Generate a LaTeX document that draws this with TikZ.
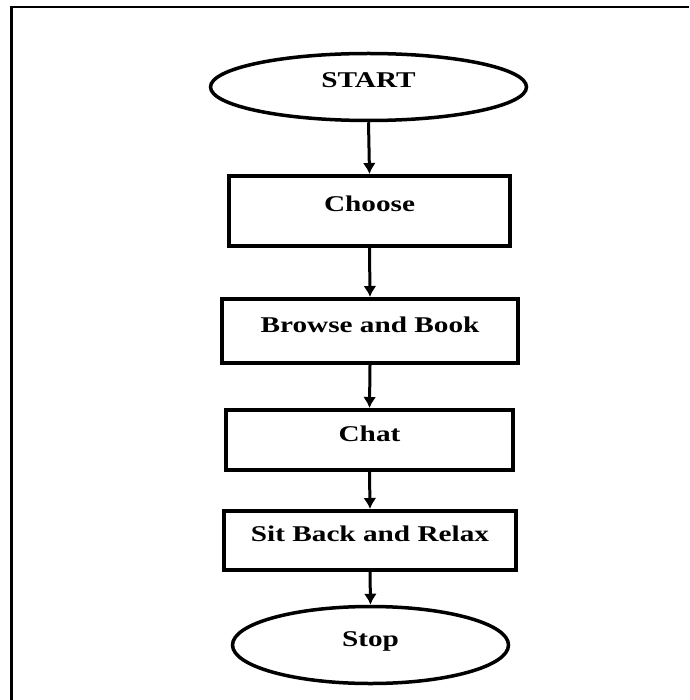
\documentclass[tikz,border=0pt]{standalone}
\usepackage{fontspec}
\setmainfont{Liberation Serif}[FakeStretch=1.3]
\usetikzlibrary{arrows.meta,shapes.geometric}

\begin{document}
\begin{tikzpicture}[x=1pt,y=-1pt,>={Latex[length=11pt,width=13pt]}]
    \tikzstyle{lbl}=[font=\fontsize{22.5}{26}\selectfont\bfseries, text height=14pt, text depth=12pt, inner sep=0pt]
    \tikzstyle{box}=[lbl, rectangle, draw=black, line width=4pt]
    \tikzstyle{term}=[lbl, ellipse, draw=black, line width=3.5pt]
    \tikzstyle{arr}=[->, line width=3pt]
    \useasboundingbox (0,0) rectangle (689,700);
    \coordinate (tl) at (11.5,7);
    \coordinate (tr) at (689,7);
    \coordinate (bl) at (11.5,700);
    \draw[line width=2.5pt] (tr) -- (tl) -- (bl);
    \node[term, minimum width=316pt, minimum height=67pt] (start) at (368.5,87) {START};
    \node[box, minimum width=281pt, minimum height=70pt] (choose) at (369.5,211) {Choose};
    \node[box, minimum width=296pt, minimum height=64pt] (browse) at (370,331) {Browse and Book};
    \node[box, minimum width=287pt, minimum height=60pt] (chat) at (369.5,440) {Chat};
    \node[box, minimum width=292pt, minimum height=59pt] (relax) at (370,540.5) {Sit Back and Relax};
    \node[term, minimum width=276pt, minimum height=77pt] (stop) at (370.5,645) {Stop};
    \draw[arr] (start.south) -- (choose.north);
    \draw[arr] (choose.south) -- (browse.north);
    \draw[arr] (browse.south) -- (chat.north);
    \draw[arr] (chat.south) -- (relax.north);
    \draw[arr] (relax.south) -- (stop.north);
\end{tikzpicture}
\end{document}
